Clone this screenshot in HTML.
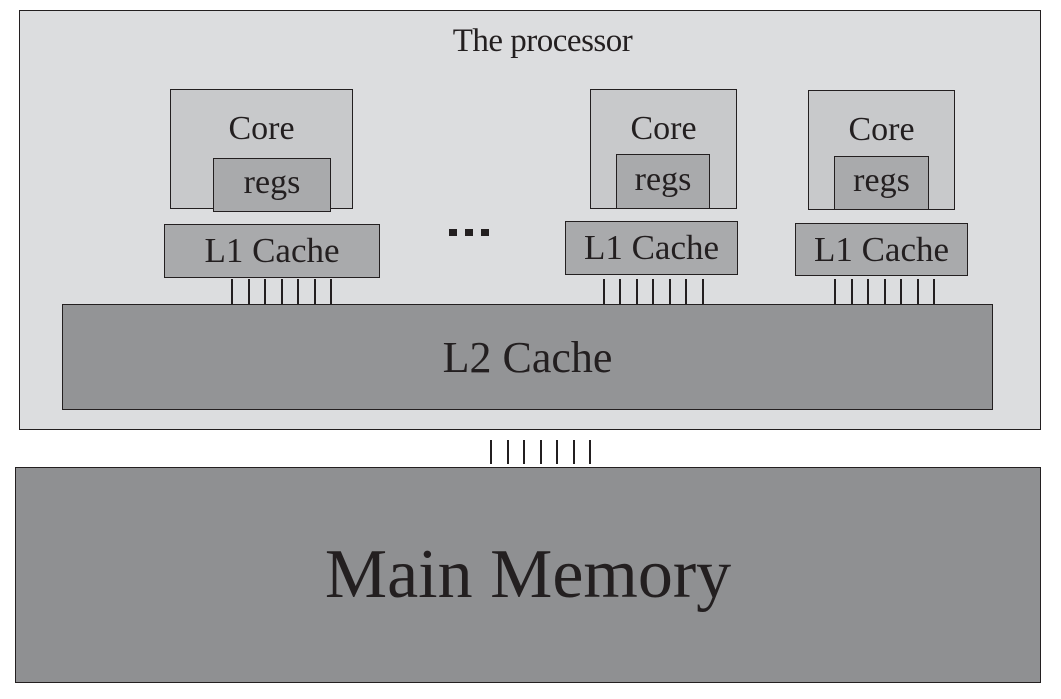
<!DOCTYPE html>
<html><head><style>
body{margin:0;width:1061px;height:699px;background:#fff;position:relative;overflow:hidden;font-family:"Liberation Serif",serif;color:#231f20}
.b{position:absolute;box-sizing:border-box;border:1.5px solid #231f20;display:flex;align-items:center;justify-content:center}
.t{position:absolute;white-space:nowrap}
.ln{position:absolute;width:1.5px;background:#231f20}
</style></head><body>
<div class="b" style="left:19px;top:10px;width:1022px;height:420px;background:#dcdddf"></div>
<div class="t" style="left:0;width:1085px;text-align:center;top:23px;font-size:33px;letter-spacing:-0.5px">The processor</div>

<div class="b" style="left:170px;top:89px;width:183px;height:120px;background:#c8c9cb;align-items:flex-start;padding-top:20px;font-size:34px">Core</div>
<div class="b" style="left:213px;top:158px;width:118px;height:54px;background:#a9aaac;font-size:34px;padding-bottom:4px">regs</div>
<div class="b" style="left:164px;top:224px;width:216px;height:54px;background:#a9aaac;font-size:35px">L1 Cache</div>

<div class="b" style="left:590px;top:89px;width:147px;height:120px;background:#c8c9cb;align-items:flex-start;padding-top:20px;font-size:34px">Core</div>
<div class="b" style="left:616px;top:154px;width:94px;height:55px;background:#a9aaac;font-size:34px;padding-bottom:4px">regs</div>
<div class="b" style="left:565px;top:221px;width:173px;height:54px;background:#a9aaac;font-size:35px">L1 Cache</div>

<div class="b" style="left:808px;top:90px;width:147px;height:120px;background:#c8c9cb;align-items:flex-start;padding-top:20px;font-size:34px">Core</div>
<div class="b" style="left:834px;top:156px;width:95px;height:54px;background:#a9aaac;font-size:34px;padding-bottom:4px">regs</div>
<div class="b" style="left:795px;top:223px;width:173px;height:53px;background:#a9aaac;font-size:35px">L1 Cache</div>

<div style="position:absolute;left:449px;top:229px;width:8px;height:7px;background:#231f20"></div>
<div style="position:absolute;left:465px;top:229px;width:8px;height:7px;background:#231f20"></div>
<div style="position:absolute;left:481px;top:229px;width:8px;height:7px;background:#231f20"></div>

<div class="ln" style="left:231px;top:279px;height:26px"></div><div class="ln" style="left:248px;top:279px;height:26px"></div><div class="ln" style="left:264px;top:279px;height:26px"></div><div class="ln" style="left:281px;top:279px;height:26px"></div><div class="ln" style="left:297px;top:279px;height:26px"></div><div class="ln" style="left:314px;top:279px;height:26px"></div><div class="ln" style="left:330px;top:279px;height:26px"></div>
<div class="ln" style="left:603px;top:279px;height:26px"></div><div class="ln" style="left:619px;top:279px;height:26px"></div><div class="ln" style="left:636px;top:279px;height:26px"></div><div class="ln" style="left:652px;top:279px;height:26px"></div><div class="ln" style="left:669px;top:279px;height:26px"></div><div class="ln" style="left:685px;top:279px;height:26px"></div><div class="ln" style="left:702px;top:279px;height:26px"></div>
<div class="ln" style="left:834px;top:279px;height:26px"></div><div class="ln" style="left:851px;top:279px;height:26px"></div><div class="ln" style="left:867px;top:279px;height:26px"></div><div class="ln" style="left:884px;top:279px;height:26px"></div><div class="ln" style="left:900px;top:279px;height:26px"></div><div class="ln" style="left:917px;top:279px;height:26px"></div><div class="ln" style="left:933px;top:279px;height:26px"></div>

<div class="b" style="left:62px;top:304px;width:931px;height:106px;background:#939496;font-size:44px">L2 Cache</div>

<div class="ln" style="left:490px;top:440px;height:24px"></div><div class="ln" style="left:507px;top:440px;height:24px"></div><div class="ln" style="left:523px;top:440px;height:24px"></div><div class="ln" style="left:540px;top:440px;height:24px"></div><div class="ln" style="left:556px;top:440px;height:24px"></div><div class="ln" style="left:573px;top:440px;height:24px"></div><div class="ln" style="left:589px;top:440px;height:24px"></div>

<div class="b" style="left:15px;top:467px;width:1026px;height:216px;background:#8f9092;font-size:70px">Main Memory</div>
</body></html>
